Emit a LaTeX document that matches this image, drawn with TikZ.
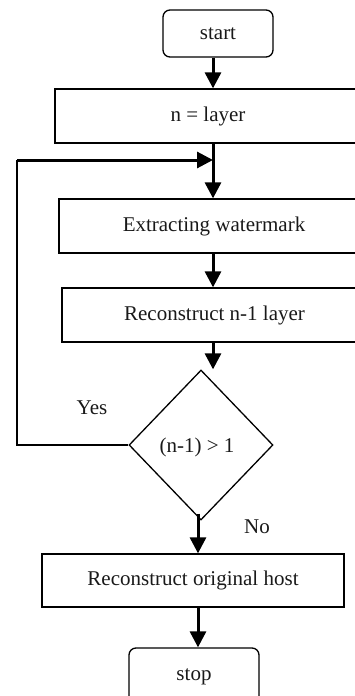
\documentclass[tikz,border=0pt]{standalone}
\usepackage{fontspec}
\setmainfont{Liberation Serif}
\usetikzlibrary{arrows.meta,shapes.geometric}
\begin{document}
\begin{tikzpicture}[x=1pt,y=-1pt,
  every node/.style={font=\fontsize{21}{24}\selectfont, text=black!90},
  procbox/.style={draw, line width=1.3pt, rectangle, inner sep=0pt},
  termbox/.style={draw, line width=1.3pt, rectangle, rounded corners=7pt, inner sep=0pt},
  decbox/.style={draw, line width=1.3pt, diamond, inner sep=0pt},
  flow/.style={line width=3pt, -{Triangle[length=16pt,width=16pt]}},
  backline/.style={line width=1.4pt},
  lbl/.style={inner sep=0pt}]
  \clip (0,0) rectangle (355,696);

  % terminals and process steps
  \node[termbox, minimum width=110pt, minimum height=47pt] (start) at (218,33.5) {start};
  \node[procbox, minimum width=306pt, minimum height=54pt] (layer) at (208,116) {n = layer};
  \node[procbox, minimum width=310pt, minimum height=54pt] (extract) at (214,226) {Extracting watermark};
  \node[procbox, minimum width=305pt, minimum height=54pt] (recon) at (214.5,315) {Reconstruct n-1 layer};
  \node[decbox, minimum width=144pt, minimum height=150pt] (dec) at (201,445) {};
  \node[lbl] (dectext) at (197,447) {(n-1) > 1};
  \node[procbox, minimum width=302pt, minimum height=53pt] (host) at (193,580.5) {Reconstruct original host};
  \node[termbox, minimum width=130pt, minimum height=58pt] (stop) at (194,677) {stop};

  % branch labels
  \node[lbl] (yes) at (92,408) {Yes};
  \node[lbl] (no) at (257,527) {No};

  % flow axes
  \coordinate (axisA) at (213,0);
  \coordinate (axisB) at (198,0);
  \coordinate (loopc) at (17,160);
  \coordinate (join) at (213,160);

  % main flow
  \draw[flow] (start.south -| axisA) -- (layer.north -| axisA);
  \draw[line width=3pt] (layer.south -| axisA) -- (join);
  \draw[flow] (join) -- (extract.north -| axisA);
  \draw[flow] (extract.south -| axisA) -- (recon.north -| axisA);
  \draw[flow] (recon.south -| axisA) -- (dec.north -| axisA);
  \draw[flow] ([yshift=7pt]dec.south -| axisB) -- (host.north -| axisB);
  \draw[flow] (host.south -| axisB) -- (stop.north -| axisB);

  % loop back on "Yes"
  \draw[backline] (dec.west) -| (loopc);
  \draw[flow] (loopc) -- (join);
\end{tikzpicture}
\end{document}
